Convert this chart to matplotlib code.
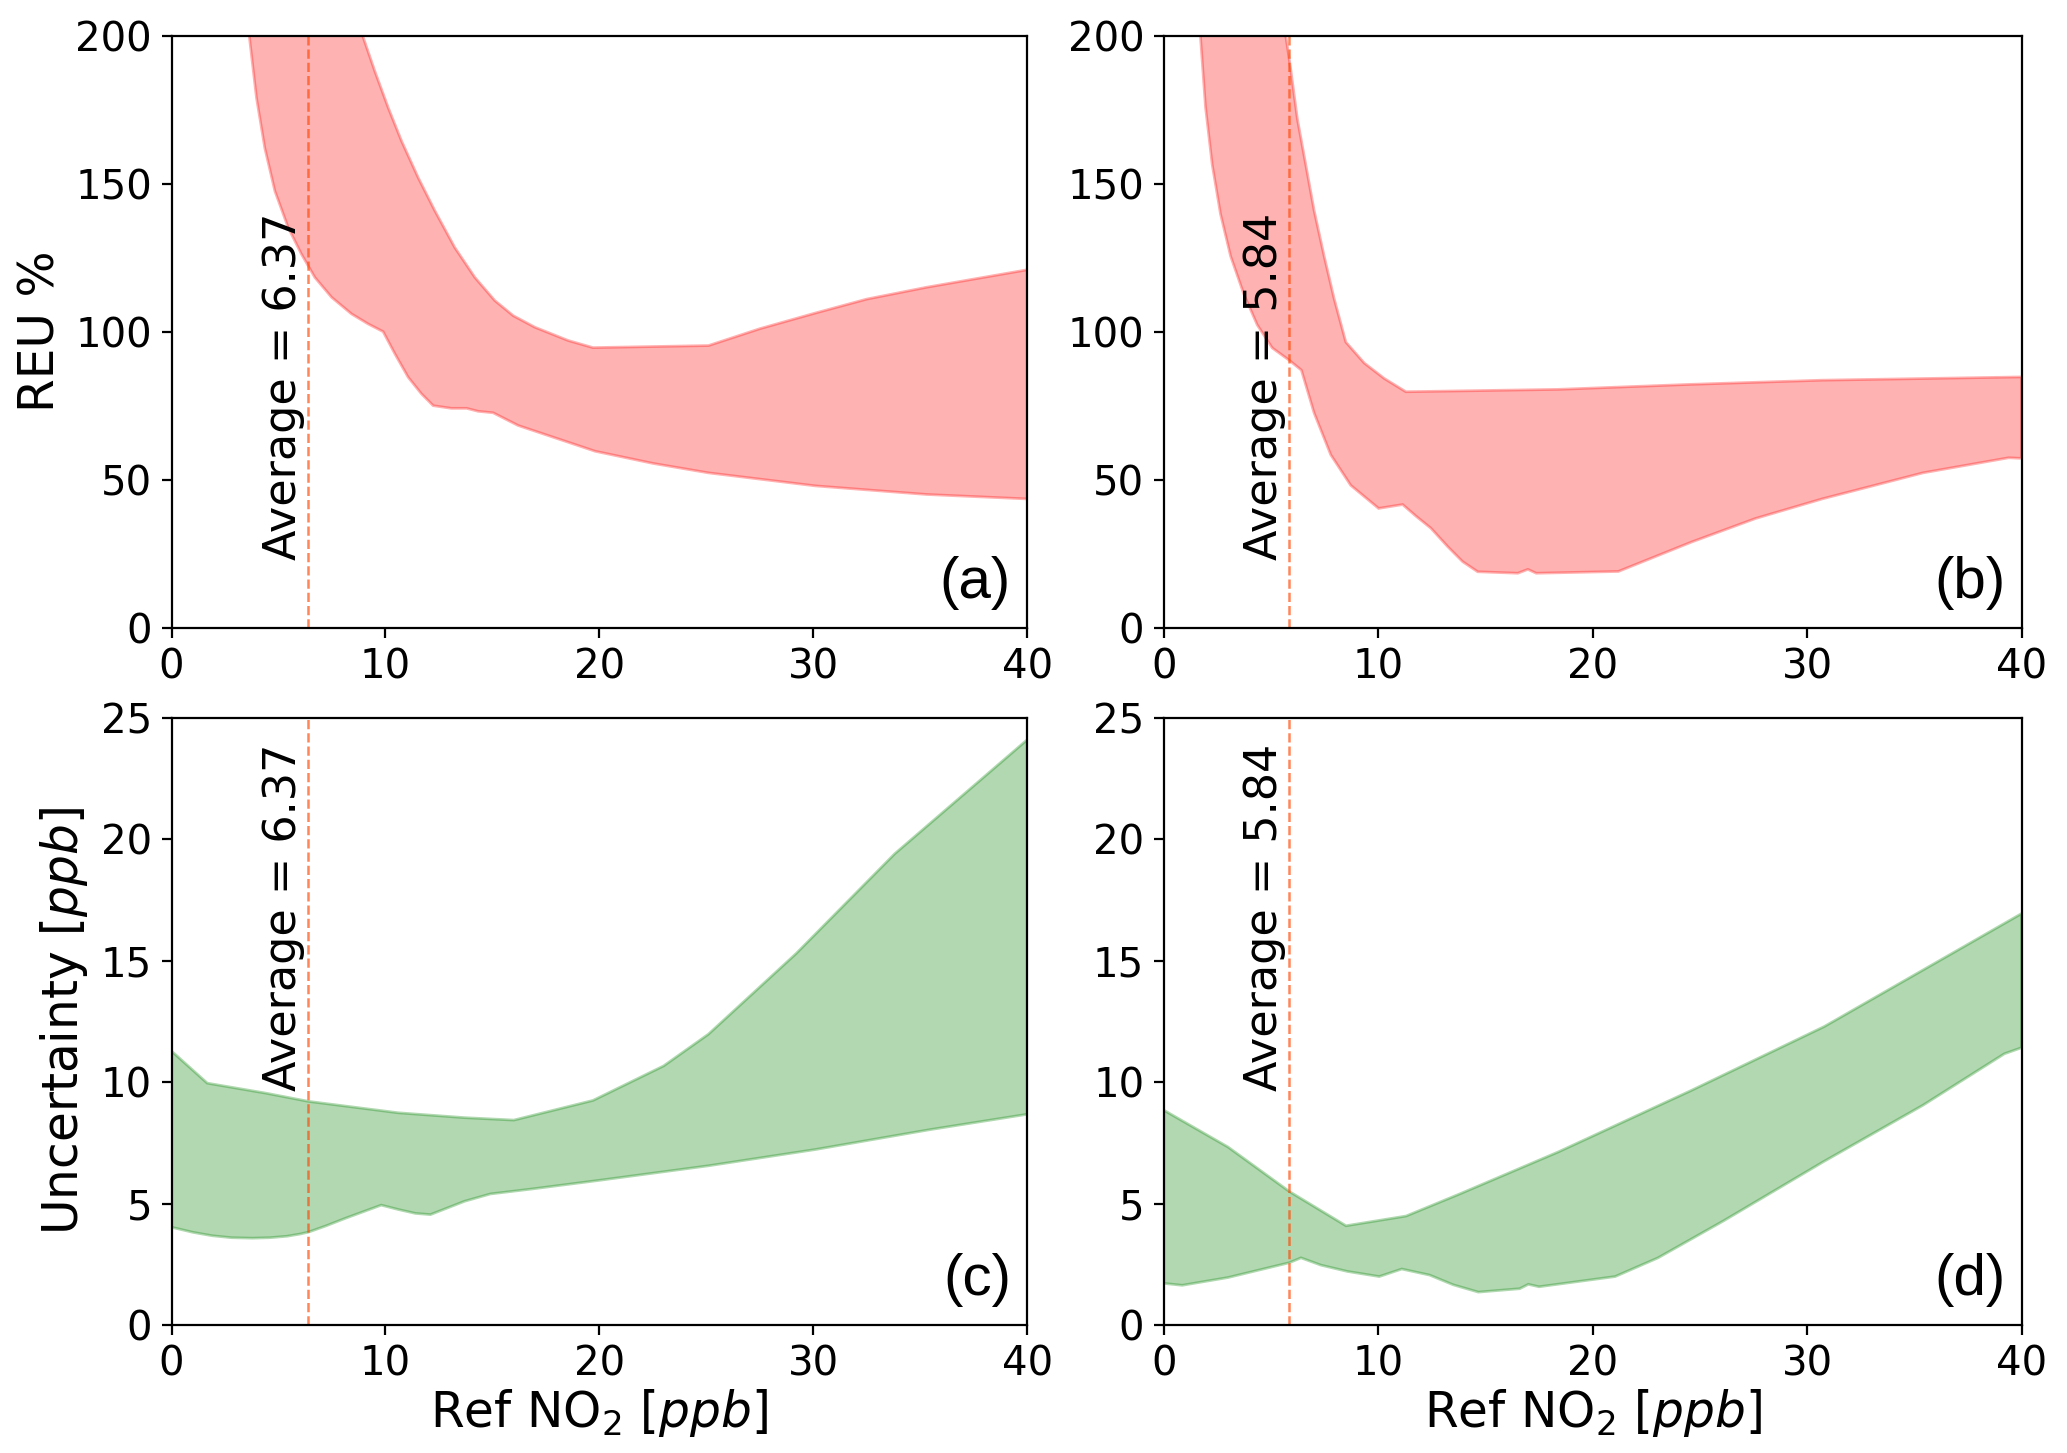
import numpy as np
import matplotlib
matplotlib.use('Agg')
import matplotlib.pyplot as plt

# panel (a): REU %, sensor 1 (values above 200 are clipped by the axis)
a_up_x = [0, 5, 8.93, 9.5, 10.13, 10.75, 11.53, 12.31, 13.24, 14.18, 15.11, 15.97, 16.98,
          18.54, 19.7, 25.1, 27.5, 30.1, 32.5, 35.3, 40]
a_up_y = [600, 400, 200, 188, 175.6, 164.4, 152, 140.8, 128.4, 118.3, 110.5, 105.4, 101.5,
          97, 94.6, 95.3, 101, 106.3, 111, 115, 120.9]
a_lo_x = [0, 2, 3.63, 3.97, 4.36, 4.83, 5.45, 6.07, 6.7, 7.48, 8.41, 9.19, 9.89, 10.44, 11.06,
          11.68, 12.23, 13.08, 13.79, 14.33, 15.03, 16.2, 19.8, 22.5, 25.1, 30.1, 35.3, 40]
a_lo_y = [600, 350, 200, 179, 162, 147.5, 135.2, 126.2, 118.3, 111.6, 106, 102.6, 100, 92.5, 84.6,
          79, 75, 74.1, 74.1, 73.1, 72.6, 68.3, 59.6, 55.5, 52.3, 47.9, 45, 43.5]

# panel (b): REU %, sensor 2
b_up_x = [0, 3, 5.69, 5.92, 6.23, 6.62, 7.01, 7.48, 7.94, 8.49, 9.35, 10.28, 11.29,
          18.4, 24.6, 30.7, 40]
b_up_y = [600, 400, 200, 188.7, 171.9, 156.5, 141, 125.5, 111.3, 96.5, 89.4, 84.2, 79.7,
          80.5, 82.2, 83.6, 84.7]
b_lo_x = [0, 1, 1.71, 1.95, 2.26, 2.65, 3.12, 3.74, 4.36, 5.06, 5.84, 6.42, 7.01, 7.79, 8.72,
          10.02, 11.14, 11.76, 12.46, 13.24, 13.94, 14.64, 16.51, 16.98, 17.37, 21.2, 24.6,
          27.6, 30.7, 35.4, 39.4, 40]
b_lo_y = [600, 350, 200, 175.8, 156.5, 139.7, 125.5, 112.6, 102.3, 94.5, 90.4, 87, 72.6, 58.4, 48.1,
          40.3, 41.6, 37.7, 33.6, 27.4, 22.3, 18.9, 18.4, 19.7, 18.4, 19, 28.9,
          36.9, 43.5, 52.3, 57.4, 57.2]

# panel (c): uncertainty [ppb], sensor 1
c_up_x = [0, 1.67, 4.4, 6.4, 10.6, 13.7, 16.0, 19.7, 23.0, 25.1, 29.2, 33.8, 40]
c_up_y = [11.28, 9.96, 9.55, 9.21, 8.74, 8.54, 8.44, 9.25, 10.67, 11.98, 15.3, 19.4, 24.1]
c_lo_x = [0, 1.0, 1.9, 2.8, 3.78, 4.6, 5.4, 6.0, 6.4, 7.2, 8.1, 9.8, 10.6, 11.4, 12.1, 13.7,
          14.9, 16.8, 19.9, 25.1, 30.1, 35.4, 40]
c_lo_y = [4.03, 3.82, 3.68, 3.6, 3.58, 3.6, 3.66, 3.75, 3.83, 4.08, 4.39, 4.94, 4.76, 4.6, 4.55, 5.1,
          5.4, 5.6, 5.95, 6.56, 7.23, 8.04, 8.68]

# panel (d): uncertainty [ppb], sensor 2
d_up_x = [0, 3.0, 5.86, 8.5, 11.3, 13.8, 18.4, 24.6, 30.8, 40]
d_up_y = [8.85, 7.33, 5.5, 4.09, 4.49, 5.4, 7.13, 9.66, 12.29, 16.94]
d_lo_x = [0, 0.86, 3.0, 5.86, 6.4, 7.33, 8.57, 10.05, 11.1, 12.4, 13.5, 14.67, 16.6, 17.0,
          17.5, 21.05, 23.05, 26.1, 30.75, 35.4, 39.2, 40]
d_lo_y = [1.72, 1.64, 1.96, 2.57, 2.77, 2.47, 2.21, 2.0, 2.31, 2.06, 1.66, 1.36, 1.5, 1.68,
          1.58, 2.0, 2.77, 4.29, 6.72, 9.05, 11.17, 11.42]

averages = [6.37, 5.84, 6.37, 5.84]
panel_tags = ['(a)', '(b)', '(c)', '(d)']

plt.rcParams['font.family'] = 'DejaVu Sans'

fig = plt.figure(figsize=(10.335, 7.265), dpi=200)
boxes = [[0.083, 0.568, 0.414, 0.4075],
         [0.563, 0.568, 0.415, 0.4075],
         [0.083, 0.088, 0.414, 0.418],
         [0.563, 0.088, 0.415, 0.418]]

bands = [(a_up_x, a_up_y, a_lo_x, a_lo_y),
         (b_up_x, b_up_y, b_lo_x, b_lo_y),
         (c_up_x, c_up_y, c_lo_x, c_lo_y),
         (d_up_x, d_up_y, d_lo_x, d_lo_y)]

for i in range(4):
    ax = fig.add_axes(boxes[i])
    ux, uy, lx, ly = bands[i]
    poly_x = np.concatenate([ux, lx[::-1]])
    poly_y = np.concatenate([uy, ly[::-1]])
    col = 'r' if i < 2 else 'g'
    ax.fill(poly_x, poly_y, facecolor=col, edgecolor=col, alpha=0.3, linewidth=1)

    top = 200 if i < 2 else 25
    ax.axvline(averages[i], color='orangered', alpha=0.65, linestyle='--', linewidth=0.9)
    ytxt = 0.115 * top if i < 2 else 0.385 * top
    ax.text(averages[i] - 0.15, ytxt, 'Average = %.2f' % averages[i], rotation=90,
            ha='right', va='bottom', fontsize=16)
    ax.text(0.981, 0.03, panel_tags[i], transform=ax.transAxes, ha='right', va='bottom',
            fontsize=21, family='Liberation Sans')

    ax.set_xlim(0, 40)
    ax.set_ylim(0, top)
    ax.set_xticks([0, 10, 20, 30, 40])
    if i < 2:
        ax.set_yticks([0, 50, 100, 150, 200])
    else:
        ax.set_yticks([0, 5, 10, 15, 20, 25])
        ax.set_xlabel(r'Ref NO$_2$ [$ppb$]', fontsize=17.5, labelpad=1)
    ax.tick_params(labelsize=14.5)
    if i == 0:
        ax.set_ylabel('REU %', fontsize=17.5)
    if i == 2:
        ax.set_ylabel(r'Uncertainty [$ppb$]', fontsize=17.5)

fig.savefig('out.png', dpi=200)
